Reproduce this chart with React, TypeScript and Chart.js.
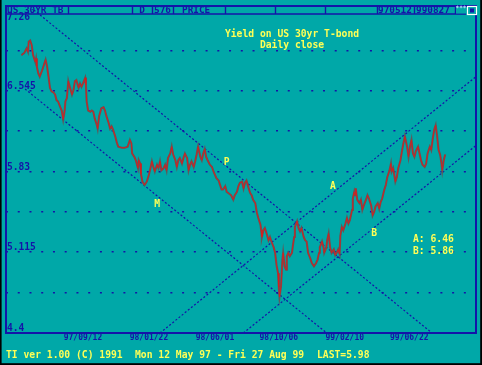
import React, { useEffect, useRef } from 'react';
import { Chart, registerables } from 'chart.js';

Chart.register(...registerables);

// ---------- data ----------
// x values are trading-day indices counted from Mon 12 May 97
const tickDays = [87, 177, 267, 354, 444, 532];
const tickLabels = ['97/09/12', '98/01/22', '98/06/01', '98/10/06', '99/02/10', '99/06/22'];
const yLabelValues = [4.4, 5.115, 5.83, 6.545, 7.26];
const yGridValues = [4.7575, 5.115, 5.4725, 5.83, 6.1875, 6.545, 6.9025];
const yMin = 4.4;
const yMax = 7.26;
const dayMin = -18;
const dayMax = 623;

const days = [
  3, 7, 10, 12, 13, 15, 17, 19, 22, 23,
  24, 26, 28, 31, 33, 36, 38, 40, 42, 44,
  47, 49, 51, 53, 56, 58, 59, 60, 62, 63,
  65, 67, 69, 72, 74, 76, 78, 81, 83, 85,
  87, 90, 91, 92, 94, 97, 99, 101, 103, 106,
  107, 109, 112, 115, 117, 119, 122, 124, 126, 128,
  131, 133, 135, 140, 144, 148, 151, 153, 154, 157,
  159, 162, 163, 165, 166, 168, 171, 174, 176, 178,
  181, 183, 185, 188, 190, 192, 194, 197, 199, 201,
  203, 206, 208, 210, 213, 215, 217, 219, 222, 224,
  226, 229, 231, 233, 235, 238, 240, 242, 244, 247,
  249, 251, 253, 255, 257, 260, 263, 265, 267, 269,
  272, 274, 276, 278, 281, 283, 285, 289, 292, 294,
  297, 299, 301, 304, 306, 308, 310, 313, 315, 317,
  319, 322, 324, 326, 329, 330, 331, 333, 335, 338,
  340, 342, 344, 347, 349, 351, 353, 354, 355, 357,
  358, 359, 360, 362, 364, 365, 367, 369, 372, 373,
  375, 376, 379, 381, 383, 385, 388, 390, 392, 394,
  397, 399, 402, 405, 407, 409, 410, 413, 415, 416,
  419, 420, 422, 424, 426, 429, 431, 433, 435, 437,
  438, 440, 442, 445, 447, 449, 451, 454, 455, 457,
  458, 459, 461, 464, 466, 468, 470, 473, 475, 477,
  480, 482, 484, 486, 489, 491, 493, 495, 498, 500,
  502, 505, 507, 508, 510, 513, 515, 517, 520, 522,
  524, 526, 529, 531, 533, 535, 537, 539, 541, 544,
  546, 548, 550, 553, 555, 557, 560, 562, 564, 566,
  568, 570, 572, 574, 576, 577, 579, 581,
];

const yields = [
  6.86, 6.88, 6.92, 6.89, 6.98, 6.99, 6.95, 6.86, 6.80, 6.83,
  6.76, 6.70, 6.67, 6.72, 6.76, 6.82, 6.76, 6.67, 6.57, 6.54,
  6.53, 6.51, 6.46, 6.45, 6.40, 6.37, 6.33, 6.29, 6.37, 6.45,
  6.48, 6.63, 6.58, 6.51, 6.55, 6.63, 6.64, 6.57, 6.61, 6.58,
  6.61, 6.66, 6.60, 6.45, 6.37, 6.36, 6.37, 6.36, 6.30, 6.24,
  6.21, 6.32, 6.39, 6.40, 6.37, 6.32, 6.26, 6.21, 6.23, 6.20,
  6.14, 6.09, 6.05, 6.04, 6.04, 6.05, 6.11, 6.08, 5.99, 5.96,
  5.93, 5.86, 5.93, 5.90, 5.81, 5.74, 5.71, 5.74, 5.78, 5.83,
  5.92, 5.87, 5.83, 5.89, 5.86, 5.92, 5.84, 5.86, 5.89, 5.84,
  5.95, 5.99, 6.05, 5.98, 5.93, 5.87, 5.93, 5.95, 5.90, 5.95,
  5.99, 5.95, 5.84, 5.89, 5.92, 5.87, 5.92, 5.98, 6.05, 5.96,
  5.93, 5.99, 6.03, 5.96, 5.93, 5.89, 5.87, 5.83, 5.80, 5.77,
  5.75, 5.71, 5.67, 5.67, 5.70, 5.65, 5.64, 5.62, 5.58, 5.62,
  5.65, 5.70, 5.73, 5.74, 5.68, 5.73, 5.75, 5.68, 5.64, 5.62,
  5.58, 5.55, 5.47, 5.42, 5.36, 5.31, 5.25, 5.31, 5.33, 5.27,
  5.22, 5.25, 5.21, 5.16, 5.11, 5.00, 4.93, 4.81, 4.72, 4.81,
  4.93, 5.05, 5.11, 4.99, 4.96, 5.08, 5.11, 5.08, 5.11, 5.16,
  5.25, 5.34, 5.39, 5.33, 5.30, 5.33, 5.25, 5.22, 5.21, 5.11,
  5.06, 5.02, 4.99, 5.02, 5.05, 5.11, 5.16, 5.21, 5.16, 5.11,
  5.16, 5.22, 5.28, 5.16, 5.11, 5.14, 5.09, 5.11, 5.14, 5.10,
  5.26, 5.34, 5.31, 5.37, 5.42, 5.37, 5.40, 5.49, 5.59, 5.65,
  5.62, 5.68, 5.58, 5.55, 5.58, 5.49, 5.53, 5.58, 5.62, 5.59,
  5.53, 5.44, 5.47, 5.52, 5.55, 5.50, 5.56, 5.59, 5.67, 5.71,
  5.78, 5.84, 5.90, 5.83, 5.86, 5.74, 5.78, 5.86, 5.93, 6.01,
  6.08, 6.14, 6.05, 5.96, 6.05, 6.11, 5.99, 5.96, 6.01, 6.05,
  5.99, 5.93, 5.89, 5.87, 5.90, 5.99, 6.05, 6.02, 6.12, 6.20,
  6.24, 6.14, 6.02, 5.98, 5.90, 5.84, 5.93, 5.98,
];

// trend lines: endpoints as [day, yield]
const lineP = { name: 'P', days: [20, 563], yields: [7.26, 4.4] };
const lineM = { name: 'M', days: [8, 419.5], yields: [6.56, 4.4] };
const lineA = { name: 'A', days: [192, 623], yields: [4.4, 6.67] };
const lineB = { name: 'B', days: [305.7, 623], yields: [4.4, 6.06] };
const trendLines = [lineP, lineM, lineA, lineB];

// letter labels placed in data coordinates [day, yield]
const letterLabels = [
  { text: 'P', day: 283, yld: 5.91 },
  { text: 'M', day: 188, yld: 5.54 },
  { text: 'A', day: 428, yld: 5.70 },
  { text: 'B', day: 484, yld: 5.28 },
];

const aValue = '6.46';
const bValue = '5.86';
const lastValue = '5.98';
const titleLines = ['Yield on US 30yr T-bond', 'Daily close'];
const footerParts = ['TI ver 1.00 (C) 1991', 'Mon 12 May 97 - Fri 27 Aug 99', 'LAST=' + lastValue];
const headerTexts = { symbol: 'US 30YR TB', period: 'D', count: '576', field: 'PRICE', from: '970512', to: '990827' };

// ---------- styles ----------
const TEAL = '#00a8a8';
const BLUE = '#1414a8';
const YELLOW = '#ffff55';
const MONO = '"DejaVu Sans Mono", "Liberation Mono", monospace';

export default function App() {
  const ref = useRef<HTMLCanvasElement>(null);

  useEffect(() => {
    const canvas = ref.current;
    if (!canvas) return;
    const points = days.map((d, i) => ({ x: d, y: yields[i] }));

    const decor = {
      id: 'decor',
      beforeDraw(chart: any) {
        const ctx = chart.ctx;
        ctx.save();
        ctx.fillStyle = TEAL;
        ctx.fillRect(0, 0, chart.width, chart.height);
        ctx.restore();
      },
      afterDraw(chart: any) {
        const ctx = chart.ctx;
        const area = chart.chartArea;
        const xs = chart.scales.x;
        const ys = chart.scales.y;
        ctx.save();

        // y labels
        ctx.fillStyle = BLUE;
        ctx.font = `bold 9.6px ${MONO}`;
        ctx.textAlign = 'left';
        ctx.textBaseline = 'middle';
        yLabelValues.forEach((v) => {
          let py = ys.getPixelForValue(v) - 4.5;
          py = Math.max(py, area.top + 7);
          ctx.fillText(String(v), area.left + 1, py);
        });

        // frame
        ctx.strokeStyle = BLUE;
        ctx.lineWidth = 2;
        ctx.strokeRect(6, 6, 470, 327);

        // header bar
        ctx.lineWidth = 1.4;
        ctx.beginPath();
        ctx.moveTo(6, 14);
        ctx.lineTo(466, 14);
        [68, 132, 152, 173, 225, 275, 325, 377, 414, 455].forEach((x) => {
          ctx.moveTo(x + 0.5, 6);
          ctx.lineTo(x + 0.5, 14);
        });
        ctx.stroke();
        ctx.fillStyle = TEAL;
        ctx.fillRect(456, 7, 20, 6.5);
        ctx.fillStyle = BLUE;
        ctx.font = `bold 9.4px ${MONO}`;
        ctx.textBaseline = 'middle';
        ctx.textAlign = 'left';
        ctx.fillText(headerTexts.symbol, 7, 10.4);
        ctx.fillText(headerTexts.field, 182, 10.4);
        ctx.fillText(headerTexts.from, 378, 10.4);
        ctx.fillText(headerTexts.to, 416, 10.4);
        ctx.textAlign = 'center';
        ctx.fillText(headerTexts.period, 142, 10.4);
        ctx.fillText(headerTexts.count, 162.5, 10.4);
        ctx.fillStyle = '#c8e8ff';
        ctx.font = `bold 6px ${MONO}`;
        ctx.fillText('***', 461, 8.5);
        // white box icon
        ctx.strokeStyle = '#ffffff';
        ctx.lineWidth = 1.2;
        ctx.strokeRect(467.5, 6.5, 9, 8);
        ctx.fillStyle = BLUE;
        ctx.fillRect(470, 8.5, 4, 4);

        // title
        ctx.fillStyle = YELLOW;
        ctx.font = `bold 9.7px ${MONO}`;
        ctx.textAlign = 'center';
        ctx.fillText(titleLines[0], 292, 34);
        ctx.fillText(titleLines[1], 292, 45.5);

        // letter labels
        letterLabels.forEach((l) => {
          ctx.fillText(l.text, xs.getPixelForValue(l.day), ys.getPixelForValue(l.yld));
        });

        // A / B values
        ctx.textAlign = 'left';
        ctx.fillText('A: ' + aValue, 413, 239.5);
        ctx.fillText('B: ' + bValue, 413, 251.5);

        // footer
        ctx.fillText(footerParts[0], 6, 355.5);
        ctx.fillText(footerParts[1], 135, 355.5);
        ctx.fillText(footerParts[2], 317, 355.5);

        // outer black border
        ctx.fillStyle = '#000000';
        ctx.fillRect(0, 0, 1.6, chart.height);
        ctx.fillRect(chart.width - 1.8, 0, 1.8, chart.height);
        ctx.fillRect(0, chart.height - 1.8, chart.width, 1.8);
        ctx.restore();
      },
    };

    const chart = new Chart(canvas, {
      type: 'line',
      data: {
        datasets: [
          { data: points, borderColor: '#dc1c1c', borderWidth: 0.9, pointRadius: 0, order: 0 },
          { data: points, borderColor: '#605858', borderWidth: 2.1, pointRadius: 0, order: 1 },
          ...trendLines.map((l) => ({
            data: l.days.map((d, i) => ({ x: d, y: l.yields[i] })),
            borderColor: BLUE,
            borderWidth: 1.2,
            borderDash: [2, 2],
            pointRadius: 0,
            order: 2,
          })),
        ],
      },
      options: {
        animation: false,
        responsive: false,
        events: [],
        layout: { padding: { left: 6, right: 6, top: 10, bottom: 0 } },
        plugins: { legend: { display: false }, tooltip: { enabled: false } },
        scales: {
          x: {
            type: 'linear',
            min: dayMin,
            max: dayMax,
            afterFit: (s: any) => { s.height = 32; },
            afterBuildTicks: (s: any) => { s.ticks = tickDays.map((v) => ({ value: v })); },
            grid: { display: true, drawOnChartArea: false, drawTicks: false, color: BLUE },
            border: { display: false },
            ticks: {
              color: BLUE,
              font: { family: MONO, size: 8, weight: 'bold' },
              padding: 0,
              maxRotation: 0,
              minRotation: 0,
              autoSkip: false,
              callback: (_v: any, i: number) => tickLabels[i],
            },
          },
          y: {
            type: 'linear',
            min: yMin,
            max: yMax,
            afterFit: (s: any) => { s.width = 0; },
            afterBuildTicks: (s: any) => { s.ticks = yGridValues.map((v) => ({ value: v })); },
            grid: { color: BLUE, lineWidth: 1.6, drawTicks: false },
            border: { display: false, dash: [2, 9.74] },
            ticks: { display: false },
          },
        },
      } as any,
      plugins: [decor],
    });
    return () => chart.destroy();
  }, []);

  return (
    <div style={{ position: 'fixed', left: 0, top: 0, width: 482, height: 365 }}>
      <canvas ref={ref} width={482} height={365} style={{ display: 'block' }} />
    </div>
  );
}
